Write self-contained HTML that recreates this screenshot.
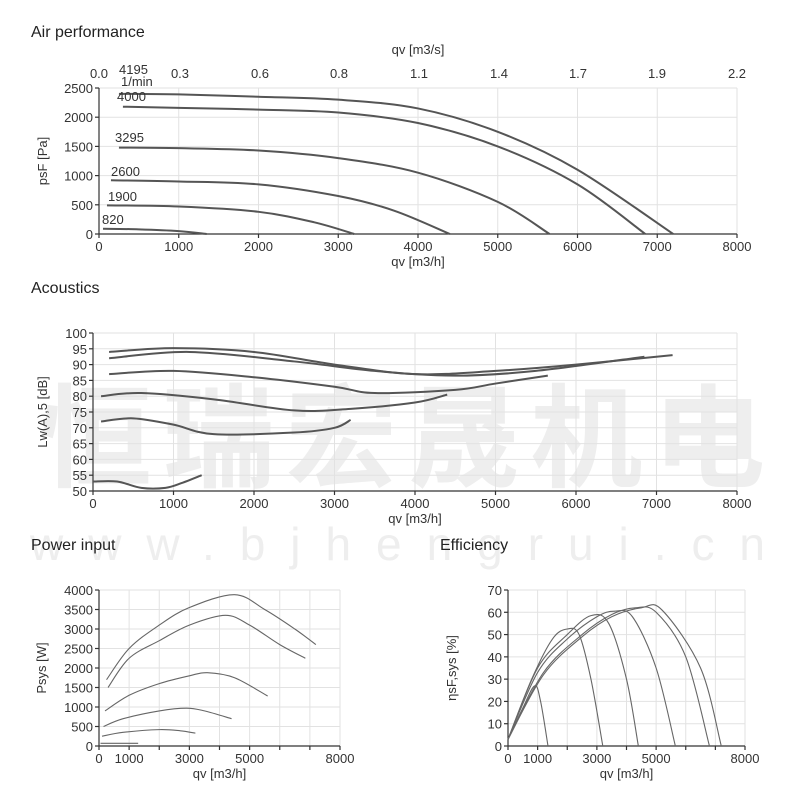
<!DOCTYPE html>
<html><head><meta charset="utf-8"><style>
body{margin:0;background:#fff;}
svg{display:block;font-family:"Liberation Sans",Arial,sans-serif;}
.t{font-size:16px;fill:#222}
.l{font-size:13px;fill:#333}
.g{stroke:#e2e2e2;stroke-width:1}
.a{stroke:#333;stroke-width:1.2;fill:none}
.c{stroke:#555;stroke-width:2;fill:none}
.c2{stroke:#666;stroke-width:1.1;fill:none}
</style></head><body>
<svg id="s" width="800" height="800" xmlns="http://www.w3.org/2000/svg">
<text x="40" y="478" font-size="112" fill="#eeeeee" font-family="'Noto Sans CJK SC',sans-serif" font-weight="bold" textLength="725" lengthAdjust="spacing">恒瑞宏晟机电</text>
<text x="30" y="560" font-size="46" fill="#eeeeee" textLength="735" lengthAdjust="spacing">www.bjhengrui.cn</text>
<text class="t" x="31" y="37">Air performance</text>
<text class="t" x="31" y="293">Acoustics</text>
<text class="t" x="31" y="550">Power input</text>
<text class="t" x="440" y="550">Efficiency</text>
<g id="g"></g>
</svg>
<script>
const NS="http://www.w3.org/2000/svg",G=document.getElementById("g");
function el(t,a,txt){const e=document.createElementNS(NS,t);for(const k in a)e.setAttribute(k,a[k]);if(txt!=null)e.textContent=txt;G.appendChild(e);return e;}
function path(pts,X,Y,cls){const p=pts.map(q=>[X(q[0]),Y(q[1])]);let d="M"+p[0][0]+","+p[0][1];
for(let i=0;i<p.length-1;i++){const p0=p[i-1]||p[i],p1=p[i],p2=p[i+1],p3=p[i+2]||p2;
d+=" C"+(p1[0]+(p2[0]-p0[0])/6)+","+(p1[1]+(p2[1]-p0[1])/6)+" "+(p2[0]-(p3[0]-p1[0])/6)+","+(p2[1]-(p3[1]-p1[1])/6)+" "+p2[0]+","+p2[1];}
el("path",{d:d,class:cls});}
function chart(o){const X=q=>o.x0+(q-o.xmin)*(o.x1-o.x0)/(o.xmax-o.xmin),Y=v=>o.y0-(v-o.ymin)*(o.y0-o.y1)/(o.ymax-o.ymin);
for(const v of o.xg)el("line",{x1:X(v),x2:X(v),y1:o.y1,y2:o.y0,class:"g"});
for(const v of o.yg)el("line",{x1:o.x0,x2:o.x1,y1:Y(v),y2:Y(v),class:"g"});
el("line",{x1:o.x0,x2:o.x1,y1:o.y0,y2:o.y0,class:"a"});el("line",{x1:o.x0,x2:o.x0,y1:o.y1,y2:o.y0,class:"a"});
for(const v of o.xg)el("line",{x1:X(v),x2:X(v),y1:o.y0,y2:o.y0+4,class:"a"});
for(const v of o.yg)el("line",{x1:o.x0-4,x2:o.x0,y1:Y(v),y2:Y(v),class:"a"});
for(const v of o.xl)el("text",{x:X(v),y:o.y0+17,"text-anchor":"middle",class:"l"},v);
for(const v of o.yl)el("text",{x:o.x0-6,y:Y(v)+5,"text-anchor":"end",class:"l"},v);
el("text",{x:(o.x0+o.x1)/2,y:o.y0+32,"text-anchor":"middle",class:"l","font-size":"14"},"qv [m3/h]");
el("text",{transform:"translate("+o.ylx+","+(o.y0+o.y1)/2+") rotate(-90)","text-anchor":"middle",class:"l","font-size":"14"},o.yt);
for(const c of o.c)path(c,X,Y,o.cls);return [X,Y];}
const r=(a,b,s)=>{const o=[];for(let v=a;v<=b;v+=s)o.push(v);return o;};
chart({x0:99,x1:737,xmin:0,xmax:8000,y0:234,y1:88,ymin:0,ymax:2500,xg:r(0,8000,1000),yg:r(0,2500,500),xl:r(0,8000,1000),yl:r(0,2500,500),ylx:47,yt:"psF [Pa]",cls:"c",
c:[[[250,2400],[1000,2390],[2000,2350],[3000,2300],[4000,2150],[5000,1750],[6000,1100],[7200,0]],
[[300,2180],[1000,2160],[2000,2130],[3000,2080],[4000,1900],[5000,1500],[6000,850],[6850,0]],
[[250,1480],[1000,1470],[2000,1430],[3000,1300],[4000,1050],[5000,550],[5650,0]],
[[150,920],[1000,900],[2000,850],[3000,650],[3700,400],[4400,0]],
[[100,490],[1000,470],[2000,380],[2700,200],[3200,0]],
[[50,90],[500,80],[1000,50],[1350,0]]]});
[["0.0",99],["0.3",180],["0.6",260],["0.8",339],["1.1",419],["1.4",499],["1.7",578],["1.9",657],["2.2",737]].forEach(a=>el("text",{x:a[1],y:78,"text-anchor":"middle",class:"l"},a[0]));
el("text",{x:418,y:54,"text-anchor":"middle",class:"l","font-size":"14"},"qv [m3/s]");
[["4195",119,74],["1/min",121,86],["4000",117,101],["3295",115,142],["2600",111,176],["1900",108,201],["820",102,224]].forEach(a=>el("text",{x:a[1],y:a[2],class:"l","font-size":a[0]=="1/min"?"11":"13"},a[0]));
chart({x0:93,x1:737,xmin:0,xmax:8000,y0:491,y1:333,ymin:50,ymax:100,xg:r(0,8000,1000),yg:r(50,100,5),xl:r(0,8000,1000),yl:r(50,100,5),ylx:47,yt:"Lw(A),5 [dB]",cls:"c",
c:[[[200,94],[1000,95.2],[2000,94],[3000,90],[4000,87],[5000,88],[6000,90],[7200,93]],
[[200,92],[1200,94],[2500,91],[3500,88],[4500,86.5],[5500,88],[6850,92.5]],
[[200,87],[1000,88],[2000,86],[3000,83],[3500,81],[4500,82],[5000,84],[5650,86.5]],
[[100,80],[600,81],[1500,79],[2500,75.5],[3200,76],[4000,78],[4400,80.5]],
[[100,72],[500,73],[1000,71],[1500,68],[2500,68.5],[3000,70],[3200,72.5]],
[[0,53],[300,53],[600,51],[900,51],[1100,52.5],[1350,55]]]});
chart({x0:99,x1:340,xmin:0,xmax:8000,y0:746,y1:590,ymin:0,ymax:4000,xg:r(0,8000,1000),yg:r(0,4000,500),xl:[0,1000,3000,5000,8000],yl:r(0,4000,500),ylx:46,yt:"Psys [W]",cls:"c2",
c:[[[250,1700],[1000,2500],[2000,3100],[3000,3550],[4500,3880],[5500,3500],[6500,3000],[7200,2600]],
[[300,1500],[1000,2250],[2000,2700],[3000,3100],[4200,3350],[5000,3100],[6000,2600],[6850,2250]],
[[200,900],[1000,1300],[2000,1600],[3000,1800],[3600,1880],[4500,1750],[5600,1280]],
[[150,500],[800,700],[2000,900],[2900,970],[3500,900],[4400,700]],
[[100,250],[800,350],[2000,420],[2700,390],[3200,330]],
[[50,70],[1300,70]]]});
chart({x0:508,x1:745,xmin:0,xmax:8000,y0:746,y1:590,ymin:0,ymax:70,xg:r(0,8000,1000),yg:r(0,70,10),xl:[0,1000,3000,5000,8000],yl:r(0,70,10),ylx:456,yt:"ηsF,sys [%]",cls:"c2",
c:[[[0,3],[500,17],[900,27],[1100,20],[1350,0]],
[[0,3],[800,30],[1500,48],[2000,52.5],[2400,50],[2800,30],[3200,0]],
[[0,3],[1000,35],[2000,50],[2800,58.5],[3400,55],[4000,30],[4400,0]],
[[0,3],[1000,33],[2000,48],[3000,58],[3600,60.5],[4200,58],[5000,35],[5650,0]],
[[0,3],[1200,33],[2500,50],[3500,59],[4300,62],[5000,60],[6000,40],[6800,0]],
[[0,3],[1200,32],[2500,49],[3500,58],[4500,62],[5200,61],[6500,35],[7200,0]]]});
</script>
</body></html>
